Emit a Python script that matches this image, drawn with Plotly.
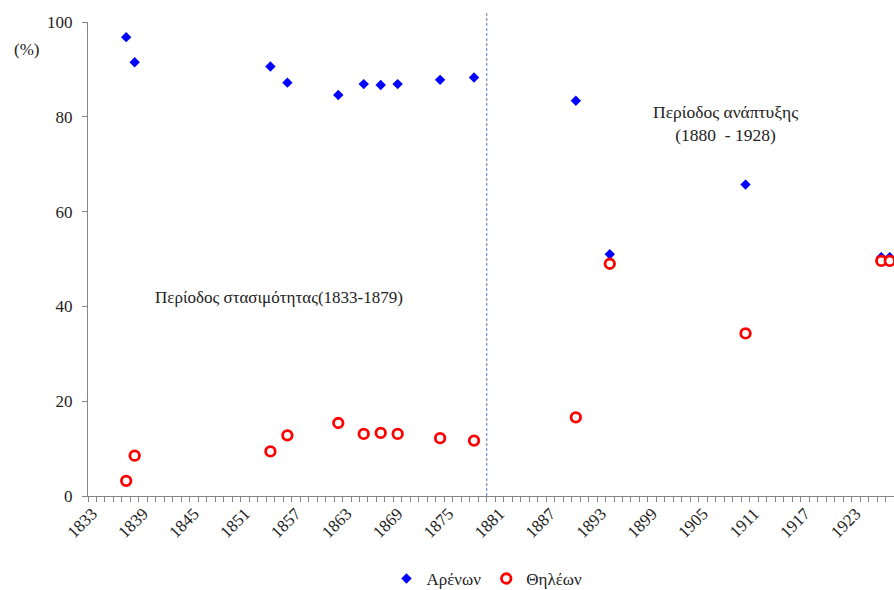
import plotly.graph_objects as go

years = [1837, 1838, 1854, 1856, 1862, 1865, 1867, 1869, 1874, 1878, 1890, 1894, 1910, 1926, 1927]
males = [96.8, 91.5, 90.6, 87.2, 84.6, 86.9, 86.7, 86.9, 87.8, 88.3, 83.4, 51.0, 65.7, 50.4, 50.4]
females = [3.2, 8.5, 9.4, 12.8, 15.4, 13.1, 13.3, 13.1, 12.2, 11.7, 16.6, 49.0, 34.3, 49.6, 49.6]
tick_years = list(range(1833, 1924, 6))
tick_labels = [str(y) for y in tick_years]
y_ticks = [0, 20, 40, 60, 80, 100]
split_year = 1879.5

FONT = "Liberation Serif, Times New Roman, serif"

fig = go.Figure()
fig.add_trace(go.Scatter(
    x=years, y=males, mode="markers", name="Αρένων",
    marker=dict(symbol="diamond", size=8, color="#0000FF"),
    cliponaxis=False,
))
fig.add_trace(go.Scatter(
    x=years, y=females, mode="markers", name="Θηλέων",
    marker=dict(symbol="circle", size=9.5, color="white",
                line=dict(color="#FF0000", width=2.8)),
    cliponaxis=False,
))

fig.add_shape(type="line", xref="x", yref="paper",
              x0=split_year, x1=split_year, y0=0, y1=1.02,
              line=dict(color="#4F81BD", width=1, dash="3px,2px"))

fig.add_annotation(text="(%)", xref="paper", yref="paper", x=-0.058, y=0.941,
                   xanchor="right", yanchor="middle", showarrow=False,
                   font=dict(family=FONT, size=17, color="#222"))
fig.add_annotation(text="Περίοδος στασιμότητας(1833-1879)", xref="x", yref="y",
                   x=1855.0, y=41.8, xanchor="center", yanchor="middle", showarrow=False,
                   font=dict(family=FONT, size=17, color="#222"))
fig.add_annotation(text="Περίοδος ανάπτυξης<br>(1880  - 1928)", xref="x", yref="y",
                   x=1907.6, y=78.6, xanchor="center", yanchor="middle", showarrow=False,
                   font=dict(family=FONT, size=17.5, color="#222"))

fig.update_layout(
    width=894, height=590,
    margin=dict(l=88, r=0, t=22, b=94, autoexpand=False),
    paper_bgcolor="white", plot_bgcolor="white",
    font=dict(family=FONT, size=17, color="#222"),
    showlegend=True,
    legend=dict(orientation="h", x=0.495, xanchor="center", y=-0.175, yanchor="middle",
                font=dict(family=FONT, size=17, color="#222"), itemwidth=30),
    xaxis=dict(
        range=[1832.5, 1927.5], automargin=False,
        tickvals=tick_years, ticktext=tick_labels, tickangle=-45,
        ticks="", showgrid=False, zeroline=False,
        showline=True, linecolor="#868686", linewidth=1,
        tickfont=dict(family=FONT, size=17, color="#222"),
        minor=dict(tick0=1832.5, dtick=1, ticks="outside", ticklen=5,
                   tickcolor="#868686", showgrid=False),
    ),
    yaxis=dict(
        range=[0, 100], tickvals=y_ticks, automargin=False,
        ticks="outside", ticklen=5, tickcolor="#868686",
        ticklabelstandoff=6,
        showgrid=False, zeroline=False,
        showline=True, linecolor="#868686", linewidth=1,
        tickfont=dict(family=FONT, size=17, color="#222"),
    ),
)

fig.write_html(
    "out.html",
    config={"displayModeBar": False},
    post_script="document.body.style.margin='0';document.body.style.overflow='hidden';",
)
